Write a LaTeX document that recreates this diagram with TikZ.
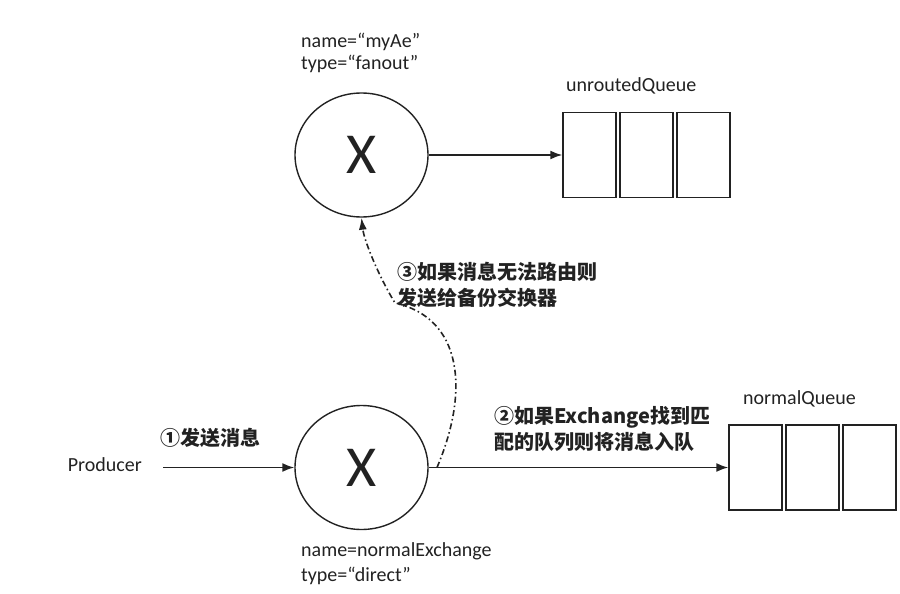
\documentclass[tikz,border=0pt]{standalone}
\usepackage{fontspec}
\setmainfont{Carlito}
\newfontfamily\cjk{Noto Sans CJK SC}
\usepackage{tikz}
\usetikzlibrary{shapes.geometric, arrows.meta, positioning}
\definecolor{ink}{HTML}{222222}
\tikzstyle{arrow} = [line width=1.7pt, draw=ink, -{Latex[length=12pt,width=9pt]}]
\tikzstyle{backup} = [line width=1.6pt, draw=ink, dash pattern=on 6pt off 3pt on 1.5pt off 3pt, -{Latex[length=12pt,width=8pt]}]
\tikzstyle{exchange} = [draw=ink, line width=1.4pt, ellipse, minimum width=133pt, minimum height=124pt, inner sep=0, font=\fontsize{58}{66}\selectfont]
\tikzstyle{cell} = [draw=ink, line width=1.4pt, rectangle, minimum width=53pt, minimum height=85pt, inner sep=0]
\tikzstyle{cjklabel} = [font=\cjk\bfseries\fontsize{20}{25.5}\selectfont, align=left, inner sep=0]

\begin{document}
\begin{tikzpicture}[x=1pt, y=-1pt, every node/.style={text=ink, font=\fontsize{20}{22}\selectfont}]
\useasboundingbox (0,0) rectangle (900,594);

% Exchanges
\node (ae) at (361.5,155) [exchange] {X};
\node (normalEx) at (361.5,467.5) [exchange] {X};
\node (aeinfo) at (301,53) [anchor=west, align=left, inner sep=0] {name=“myAe”\\type=“fanout”};
\node (exinfo) at (301,564) [anchor=west, align=left, inner sep=0, font=\fontsize{20}{25}\selectfont] {name=normalExchange\\type=“direct”};

% Queues
\node (q1a) at (589.5,155) [cell] {};
\node (q1b) [cell, right=2.5pt of q1a] {};
\node (q1c) [cell, right=2.5pt of q1b] {};
\node (q1name) at (566,92) [anchor=base west, inner sep=0] {unroutedQueue};

\node (q2a) at (755.5,467.5) [cell] {};
\node (q2b) [cell, right=2.5pt of q2a] {};
\node (q2c) [cell, right=2.5pt of q2b] {};
\node (q2name) at (743,404) [anchor=base west, inner sep=0] {normalQueue};

% Producer
\node (producer) at (142,471.5) [anchor=base east, inner sep=0] {Producer};

% Messages
\draw [arrow, shorten <=21pt] (producer.east |- normalEx.west) -- node[cjklabel, anchor=south west, pos=0.118, yshift=19.5pt] (step1) {①发送消息} (normalEx.west);
\draw [arrow] (normalEx.east) -- node[cjklabel, anchor=south west, pos=0.216, yshift=15.5pt] (step2) {②如果Exchange找到匹\\配的队列则将消息入队} (q2a.west);
\draw [arrow] (ae.east) -- (q1a.west);

% Alternate exchange route
\coordinate (fork) at (437,467.5);
\coordinate (bend) at (395,303);
\draw [backup] (fork) .. controls (470,390) and (462,318) .. (bend) .. controls (378,275) and (364,240) .. (ae.south);
\node (backupnote) at (397,285) [cjklabel, anchor=west] {③如果消息无法路由则\\发送给备份交换器};

\end{tikzpicture}
\end{document}
